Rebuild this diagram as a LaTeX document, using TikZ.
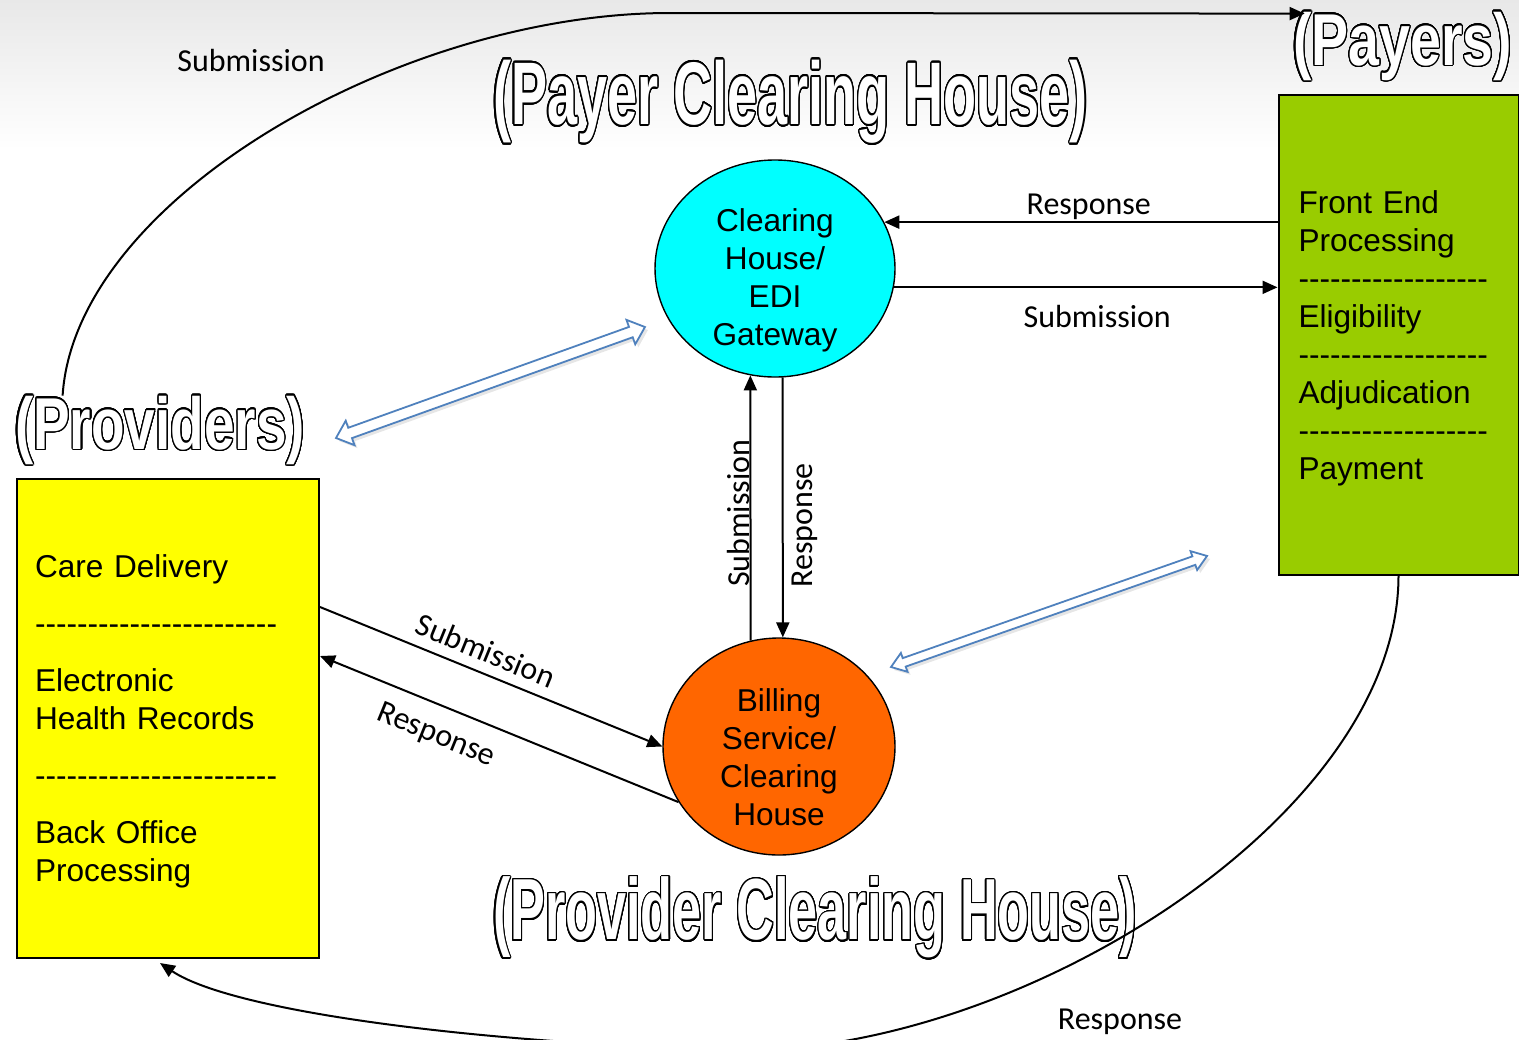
\documentclass[tikz,border=0pt]{standalone}
\usepackage{fontspec}
\usepackage{graphicx}
\usepackage{contour}
\usetikzlibrary{positioning,arrows.meta,shapes.geometric,shadows}
\newfontfamily\boxfont{Liberation Sans}
\newfontfamily\labelfont{Carlito}
\newfontfamily\titlefont{Liberation Sans}
\contourlength{0.8pt}
\contournumber{32}
\definecolor{hubcyan}{HTML}{00FFFF}
\definecolor{hubbilling}{HTML}{FF6600}
\definecolor{provyellow}{HTML}{FFFF00}
\definecolor{payergreen}{HTML}{99CC00}
\definecolor{arrowblue}{HTML}{4F81BD}
\newcommand{\hollowtitle}[3]{\resizebox*{#1}{#2}{\titlefont\bfseries\fontsize{40pt}{44pt}\selectfont\color{white}\contour{black}{#3}}}
\newcommand{\dashline}[1]{\foreach\k in {1,...,#1}{-\kern0pt}}

\begin{document}
\begin{tikzpicture}[x=0.5pt, y=-0.5pt,
  box/.style={draw, line width=1pt, align=left, inner ysep=0pt, font=\boxfont\fontsize{15.8pt}{19pt}\selectfont},
  hub/.style={ellipse, draw, line width=0.7pt, inner sep=0pt},
  hubtext/.style={align=center, inner sep=0pt, font=\boxfont\fontsize{15.8pt}{19pt}\selectfont},
  flow/.style={-{Triangle[length=7.5pt,width=6.5pt]}, line width=1pt},
  lbl/.style={font=\labelfont\fontsize{16pt}{19pt}\selectfont, inner sep=2pt},
  title/.style={inner sep=0pt},
  twoway/.style={draw=arrowblue, line width=0.9pt, fill=white, line join=miter,
    drop shadow={opacity=0.2, shadow xshift=1.5pt, shadow yshift=-1.5pt}}
]
\useasboundingbox (0,0) rectangle (1519,1039);
\clip (0,0) rectangle (1519,1039);
\shade[top color=gray!18, bottom color=white] (0,0) rectangle (1519,150);

\begin{scope}[shift={(336,438)}, rotate=19.76]
  \draw[twoway] (0,0) -- (15,-13) -- (15,-5.5) -- (313.3,-5.5) -- (313.3,-13) -- (328.3,0)
    -- (313.3,13) -- (313.3,5.5) -- (15,5.5) -- (15,13) -- cycle;
\end{scope}
\begin{scope}[shift={(891,667)}, rotate=19.36]
  \draw[twoway] (0,0) -- (14,-10) -- (14,-4.5) -- (321,-4.5) -- (321,-10) -- (335,0)
    -- (321,10) -- (321,4.5) -- (14,4.5) -- (14,10) -- cycle;
\end{scope}

\node[box, fill=provyellow, text width=133pt, inner xsep=9pt, minimum height=239.5pt] (prov) at (168,718.5)
  {\rule{0pt}{14.5pt}Care Delivery\\[9.5pt]\dashline{23}\\[9.5pt]Electronic\\Health Records\\[9.5pt]\dashline{23}\\[9.5pt]Back Office\\Processing};
\node[box, fill=payergreen, text width=100pt, inner xsep=10pt, minimum height=240pt] (pay) at (1398.5,335)
  {\rule{0pt}{14.5pt}Front End\\Processing\\\dashline{18}\\Eligibility\\\dashline{18}\\Adjudication\\\dashline{18}\\Payment};

\node[hub, fill=hubcyan, minimum width=120pt, minimum height=108.5pt] (ch) at (775,268.5) {};
\node[hubtext] (chtext) at ([yshift=-6pt]ch.center) {Clearing\\House/\\EDI\\Gateway};
\node[hub, fill=hubbilling, minimum width=116pt, minimum height=108.5pt] (bill) at (779,746.5) {};
\node[hubtext] (billtext) at ([yshift=-5.3pt]bill.center) {Billing\\Service/\\Clearing\\House};

\node[title] (chtitle) at (790.5,102.5) {\hollowtitle{297.5pt}{42.5pt}{(Payer Clearing House)}};
\node[title] (provchtitle) at (815,918.5) {\hollowtitle{322pt}{41.5pt}{(Provider Clearing House)}};
\node[title] (provtitle) at (160,431) {\hollowtitle{145pt}{35pt}{(Providers)}};
\node[title] (paytitle) at (1402.5,47) {\hollowtitle{109.5pt}{35pt}{(Payers)}};

\draw[flow] (pay.west |- ch.23) -- node[lbl, above=-1.5pt, pos=0.48] (rsp1) {Response} (ch.23);
\draw[flow] (ch.-9) -- node[lbl, below=6.5pt, pos=0.53] (sub1) {Submission} (ch.-9 -| pay.west);
\draw[flow] (bill.105) -- node[lbl, rotate=90, anchor=south, inner sep=0pt, pos=0.48] (sub2) {Submission} (ch.-103);
\draw[flow] (ch.-86) -- node[lbl, rotate=90, anchor=north, inner sep=4pt, pos=0.57] (rsp2) {Response} (bill.88);
\draw[flow] ([yshift=55.75pt]prov.east) -- node[lbl, sloped, above=3pt, pos=0.46] (sub3) {Submission} (bill.west);
\draw[flow] (bill.209) -- node[lbl, sloped, below=6pt, pos=0.645] (rsp3) {Response} ([yshift=31.25pt]prov.east);

\draw[flow] ([xshift=24pt]provtitle.north west) .. controls (75,200) and (400,13) .. (670,13)
  -- ([xshift=6pt,yshift=-1pt]paytitle.north west);
\node[lbl] (sub4) at (251,61) {Submission};
\draw[flow] (pay.south) .. controls (1398,820) and (1010,1058) .. (730,1050)
  .. controls (460,1042) and (230,1010) .. ([xshift=-4pt,yshift=-2pt]prov.south);
\node[lbl] (rsp4) at (1120,1022) {Response};
\end{tikzpicture}
\end{document}
